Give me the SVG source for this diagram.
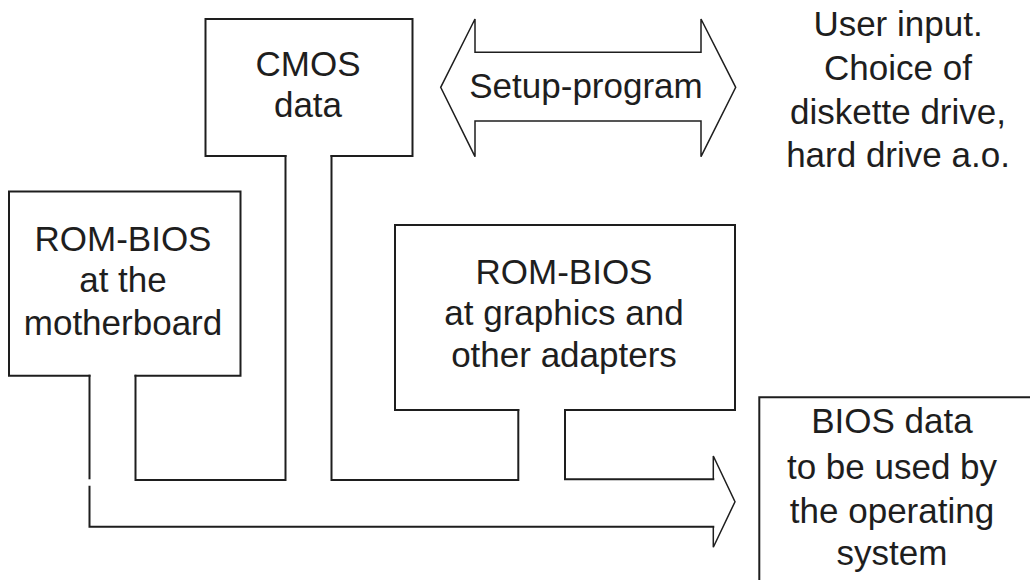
<svg xmlns="http://www.w3.org/2000/svg" width="1030" height="580" viewBox="0 0 1030 580">
<style>
.ln{fill:none;stroke:#1e1e1e;stroke-width:2;stroke-linejoin:miter;stroke-linecap:square}
.hd{fill:none;stroke:#1e1e1e;stroke-width:1.5;stroke-linejoin:miter}
.t{font-family:"Liberation Sans",Arial,sans-serif;font-size:35px;fill:#1e1e1e;text-anchor:middle}
</style>
<rect width="1030" height="580" fill="#fff"/>
<g id="cmos">
<path class="ln" d="M285.5,156 H205.5 V19 H412.5 V156 H331.5"/>
<text class="t" x="308" y="76">CMOS</text>
<text class="t" x="308" y="117">data</text>
</g>
<g id="setup">
<path class="hd" d="M475,52.3 V19 L440.7,87.3 L475,156.7 V121 H701 V156.7 L735.7,87.3 L701,19 V52.3 Z"/>
<text class="t" x="586" y="98">Setup-program</text>
</g>
<g id="userinput">
<text class="t" x="898" y="36">User input.</text>
<text class="t" x="898" y="80">Choice of</text>
<text class="t" x="898" y="124">diskette drive,</text>
<text class="t" x="898" y="167">hard drive a.o.</text>
</g>
<g id="rombios-mb">
<path class="ln" d="M89.5,375.7 H9 V191.5 H240.5 V375.7 H135.5"/>
<text class="t" x="123" y="251">ROM-BIOS</text>
<text class="t" x="123" y="292">at the</text>
<text class="t" x="123" y="335">motherboard</text>
</g>
<g id="rombios-adapters">
<path class="ln" d="M518.3,410 H395 V225 H735 V410 H565"/>
<text class="t" x="564" y="284">ROM-BIOS</text>
<text class="t" x="564" y="325">at graphics and</text>
<text class="t" x="564" y="367">other adapters</text>
</g>
<g id="biosdata">
<path class="ln" d="M1040,397.3 H759.3 V590"/>
<text class="t" x="892" y="433">BIOS data</text>
<text class="t" x="892" y="479">to be used by</text>
<text class="t" x="892" y="523">the operating</text>
<text class="t" x="892" y="565">system</text>
</g>
<g id="connectors">
<path class="ln" d="M89.5,375.7 V478.3"/>
<path class="ln" d="M89.5,486.7 V526.7 H713.3"/>
<path class="hd" d="M713.3,526.7 V547.3 L735,501.7 L713.3,456 V479.3"/>
<path class="ln" d="M713.3,479.3 H565 V410"/>
<path class="ln" d="M135.5,375.7 V480 H285.5 V156"/>
<path class="ln" d="M331.5,156 V480 H518.3 V410"/>
</g>
</svg>
